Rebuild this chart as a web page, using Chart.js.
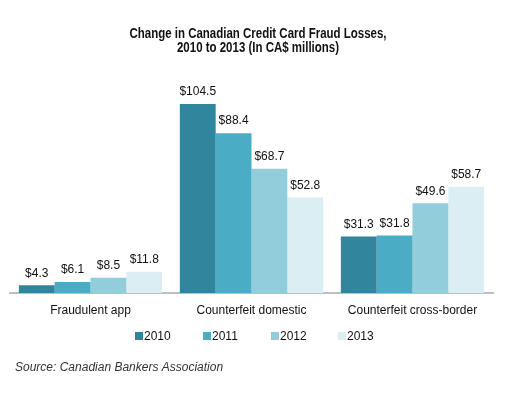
<!DOCTYPE html>
<html><head><meta charset="utf-8">
<script src="https://cdn.jsdelivr.net/npm/chart.js@4"></script>
<style>html,body{margin:0;padding:0;background:#fff}#wrap{width:524px;height:393px}</style>
</head><body><div id="wrap"><canvas id="c" width="524" height="393"></canvas></div>
<script>
const categories = ["Fraudulent app", "Counterfeit domestic", "Counterfeit cross-border"];
const years = ["2010", "2011", "2012", "2013"];
const values2010 = [4.3, 104.5, 31.3];
const values2011 = [6.1, 88.4, 31.8];
const values2012 = [8.5, 68.7, 49.6];
const values2013 = [11.8, 52.8, 58.7];
const colors = ["#31859C", "#4BACC6", "#92CDDC", "#DAEEF3"];
const titleLines = ["Change in Canadian Credit Card Fraud Losses,", "2010 to 2013 (In CA$ millions)"];
const sourceText = "Source: Canadian Bankers Association";

const series = [values2010, values2011, values2012, values2013];

const overlay = {
  id: 'overlay',
  afterDatasetsDraw(chart) {
    const ctx = chart.ctx;
    ctx.save();
    // value labels
    ctx.fillStyle = '#111';
    ctx.font = '12px "Liberation Sans", Arial, sans-serif';
    ctx.textAlign = 'center';
    ctx.textBaseline = 'bottom';
    chart.data.datasets.forEach((ds, i) => {
      chart.getDatasetMeta(i).data.forEach((bar, j) => {
        ctx.fillText('$' + ds.data[j].toFixed(1), bar.x, bar.y - 6);
      });
    });
    // title (condensed look via horizontal scaling)
    ctx.font = 'bold 14px "Liberation Sans", Arial, sans-serif';
    ctx.fillStyle = '#111';
    ctx.textBaseline = 'middle';
    ctx.save();
    ctx.translate(258, 0);
    ctx.scale(0.82, 1);
    ctx.fillText(titleLines[0], 0, 34);
    ctx.fillText(titleLines[1], 0, 48);
    ctx.restore();
    // legend
    ctx.font = '12px "Liberation Sans", Arial, sans-serif';
    ctx.textAlign = 'left';
    const lx = [135, 203, 271, 338];
    years.forEach((y, i) => {
      ctx.fillStyle = colors[i];
      ctx.fillRect(lx[i], 332, 8, 8);
      ctx.fillStyle = '#111';
      ctx.fillText(y, lx[i] + 9, 337);
    });
    // source
    ctx.font = 'italic 12px "Liberation Sans", Arial, sans-serif';
    ctx.fillStyle = '#333';
    ctx.fillText(sourceText, 15, 368);
    ctx.restore();
  }
};

new Chart(document.getElementById('c'), {
  type: 'bar',
  data: {
    labels: categories,
    datasets: years.map((y, i) => ({
      label: y,
      data: series[i],
      backgroundColor: colors[i],
      borderWidth: 0
    }))
  },
  options: {
    responsive: false,
    animation: false,
    devicePixelRatio: 1,
    layout: { padding: { left: 10, right: 31, top: 76, bottom: 70 } },
    plugins: { legend: { display: false }, tooltip: { enabled: false }, title: { display: false } },
    datasets: { bar: { categoryPercentage: 0.89, barPercentage: 1.0 } },
    scales: {
      x: {
        grid: { display: false, drawTicks: false },
        border: { display: true, color: '#BFBFBF', width: 2 },
        ticks: { padding: 10, color: '#111', font: { family: '"Liberation Sans", Arial, sans-serif', size: 12 } },
        afterFit: s => { s.height = 30; }
      },
      y: { display: false, min: 0, max: 120 }
    }
  },
  plugins: [overlay]
});
</script>
</body></html>
